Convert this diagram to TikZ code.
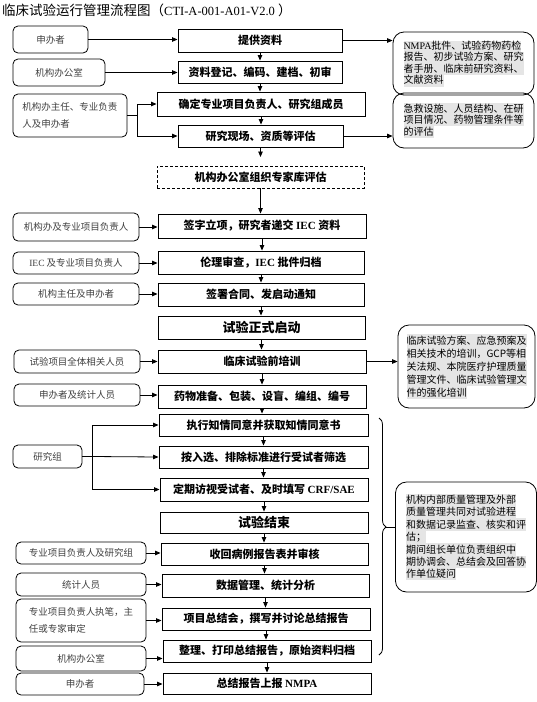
\documentclass[tikz,border=0pt]{standalone}
\usepackage{fontspec}
\setmainfont{Liberation Serif}
\newfontfamily\cjk{Noto Sans CJK SC}
\usetikzlibrary{arrows.meta, positioning, decorations.pathreplacing}
\definecolor{notegray}{gray}{0.9}
\definecolor{sidetext}{gray}{0.25}
\newcommand\lat[1]{{\rmfamily #1}}
\newcommand\hl[1]{{\fboxsep=0pt\colorbox{notegray}{\rule[-2.6pt]{0pt}{\baselineskip}#1}}}

\begin{document}
\begin{tikzpicture}[x=1pt, y=-1pt, >={Triangle[length=5.5pt,width=4.5pt]},
    boxsize/.style 2 args={minimum width=#1, minimum height=#2},
    mainbox/.style={draw, line width=0.9pt, inner sep=1pt, font=\cjk\bfseries\fontsize{11}{13}\selectfont},
    bigbox/.style={mainbox, font=\cjk\bfseries\fontsize{13}{15}\selectfont},
    dashbox/.style={mainbox, dash pattern=on 3pt off 2pt},
    sidebox/.style={draw, line width=0.8pt, rounded corners=5pt, inner sep=1pt, text=sidetext, font=\cjk\fontsize{9.5}{13}\selectfont},
    sidetwo/.style={sidebox, align=left, font=\cjk\fontsize{9.5}{16.5}\selectfont},
    notebox/.style={draw, line width=0.8pt, rounded corners=11pt, inner sep=1pt, align=left, font=\cjk\fontsize{10}{11.5}\selectfont},
    flow/.style={->, line width=0.8pt}]
    \useasboundingbox (0,0) rectangle (537,702);

    % Title
    \node[anchor=west, inner sep=0pt, font=\cjk\fontsize{13.5}{15}\selectfont] (title) at (2,10)
        {临床试验运行管理流程图（\lat{\fontsize{12.5}{14}\selectfont CTI-A-001-A01-V2.0 }）};

    % Main flow
    \node[mainbox, boxsize={164}{23}] (m1) at (260,40.5) {提供资料};
    \node[mainbox, boxsize={164}{22}] (m2) at (260,72) {资料登记、编码、建档、初审};
    \node[mainbox, boxsize={208}{24}] (m3) at (261,104) {确定专业项目负责人、研究组成员};
    \node[mainbox, boxsize={165}{22}] (m4) at (260.5,136) {研究现场、资质等评估};
    \node[dashbox, boxsize={207}{22}] (m5) at (260.5,177) {机构办公室组织专家库评估};
    \node[mainbox, boxsize={208}{24}] (m6) at (262,226) {签字立项，研究者递交 \lat{IEC} 资料};
    \node[mainbox, boxsize={206}{23}] (m7) at (261,262.5) {伦理审查，\lat{IEC} 批件归档};
    \node[mainbox, boxsize={206}{23}] (m8) at (261,294.5) {签署合同、发启动通知};
    \node[bigbox, boxsize={207}{23}] (m9) at (261.5,327.5) {试验正式启动};
    \node[mainbox, boxsize={208}{23}] (m10) at (262,361.5) {临床试验前培训};
    \node[mainbox, boxsize={208}{23}] (m11) at (262,396.5) {药物准备、包装、设盲、编组、编号};
    \node[mainbox, boxsize={209}{22}] (m12) at (263.5,425) {执行知情同意并获取知情同意书};
    \node[mainbox, boxsize={209}{22}] (m13) at (263.5,457) {按入选、排除标准进行受试者筛选};
    \node[mainbox, boxsize={208}{23}] (m14) at (264,489.5) {定期访视受试者、及时填写 \lat{CRF/SAE}};
    \node[bigbox, boxsize={208}{21}] (m15) at (264,522.5) {试验结束};
    \node[mainbox, boxsize={207}{22}] (m16) at (264.5,554) {收回病例报告表并审核};
    \node[mainbox, boxsize={207}{23}] (m17) at (265.5,585.5) {数据管理、统计分析};
    \node[mainbox, boxsize={208}{22}] (m18) at (266,619) {项目总结会，撰写并讨论总结报告};
    \node[mainbox, boxsize={208}{22}] (m19) at (267,651) {整理、打印总结报告，原始资料归档};
    \node[mainbox, boxsize={208}{21}] (m20) at (267,683.5) {总结报告上报 \lat{NMPA}};

    % Who is responsible
    \node[sidebox, boxsize={75}{27}] (s1) at (50.5,39.5) {申办者};
    \node[sidebox, boxsize={92}{27}] (s2) at (59,72.5) {机构办公室};
    \node[sidetwo, boxsize={114}{43}] (s3) at (70,115.5) {机构办主任、专业负责\\人及申办者};
    \node[sidebox, boxsize={126}{28}] (s4) at (76,227) {机构办及专业项目负责人};
    \node[sidebox, boxsize={126}{22}] (s5) at (76,263) {\lat{IEC} 及专业项目负责人};
    \node[sidebox, boxsize={126}{22}] (s6) at (76,294) {机构主任及申办者};
    \node[sidebox, boxsize={126}{23}] (s7) at (77,361.5) {试验项目全体相关人员};
    \node[sidebox, boxsize={126}{22}] (s8) at (77,395) {申办者及统计人员};
    \node[sidebox, boxsize={69}{23}] (s9) at (47.5,456.5) {研究组};
    \node[sidebox, boxsize={130}{22}] (s10) at (81,553) {专业项目负责人及研究组};
    \node[sidebox, boxsize={130}{23}] (s11) at (81,584.5) {统计人员};
    \node[sidetwo, boxsize={130}{43}] (s12) at (81,620.5) {专业项目负责人执笔，主\\任或专家审定};
    \node[sidebox, boxsize={130}{25}] (s13) at (81,658.5) {机构办公室};
    \node[sidebox, boxsize={128}{22}] (s14) at (80,684) {申办者};

    % Notes on the right
    \node[notebox, boxsize={141}{63}] (n1) at (463.5,63.5)
        {\hl{\lat{NMPA}批件、试验药物药检}\\\hl{报告、初步试验方案、研究}\\\hl{者手册、临床前研究资料、}\\\hl{文献资料}};
    \node[notebox, boxsize={141}{55}] (n2) at (463.5,120.5)
        {\hl{急救设施、人员结构、在研}\\\hl{项目情况、药物管理条件等}\\\hl{的评估}};
    \node[notebox, boxsize={137}{83}, font=\cjk\fontsize{10}{13}\selectfont] (n3) at (466.5,366.5)
        {\hl{临床试验方案、应急预案及}\\\hl{相关技术的培训，GCP等相}\\\hl{关法规、本院医疗护理质量}\\\hl{管理文件、临床试验管理文}\\\hl{件的强化培训}};
    \node[notebox, boxsize={141}{110}, font=\cjk\fontsize{10}{12.4}\selectfont] (n4) at (466,537)
        {\hl{机构内部质量管理及外部}\\\hl{质量管理共同对试验进程}\\\hl{和数据记录监查、核实和评}\\\hl{估；}\\\hl{期间组长单位负责组织中}\\\hl{期协调会、总结会及回答协}\\\hl{作单位疑问}};

    % Arrows down the flow
    \foreach \a/\b in {m1/m2, m2/m3, m3/m4, m5/m6, m6/m7, m7/m8, m8/m9, m9/m10, m10/m11,
        m11/m12, m12/m13, m13/m14, m14/m15, m15/m16, m16/m17, m17/m18, m18/m19, m19/m20}
        \draw[flow] (\a.south) -- (\a.south |- \b.north);
    \coordinate (m4end) at (260.5,157);
    \draw[flow] (m4.south) -- (m4end);

    % Arrows from the left
    \foreach \s/\m in {s1/m1, s2/m2, s4/m6, s5/m7, s6/m8, s7/m10, s8/m11,
        s10/m16, s11/m17, s12/m18, s13/m19, s14/m20}
        \draw[flow] (\s.east) -- (\s.east -| \m.west);
    \coordinate (j3) at (137,115.5);
    \draw[line width=0.8pt] (s3.east) -- (j3);
    \draw[flow] (j3) |- (m3.west);
    \draw[flow] (j3) |- (m4.west);
    \coordinate (j9) at (92,456.5);
    \draw[line width=0.8pt] (s9.east) -- (j9);
    \draw[flow] (j9) |- (m12.west);
    \draw[flow] (j9) -- (m13.west);
    \draw[flow] (j9) |- (m14.west);

    % Arrows to the notes
    \draw[flow] (m1.east) -- (m1.east -| n1.west);
    \draw[flow] (m4.east) -- (m4.east -| n2.west);
    \draw[flow] (m10.east) -- (m10.east -| n3.west);

    % Brace over the running trial
    \draw[line width=0.8pt, decorate, decoration={brace, amplitude=7pt, aspect=0.46}] (379,418) -- (379,655);
    \coordinate (btip) at (386,527);
    \draw[line width=0.8pt] (btip) -- (btip -| n4.west);

\end{tikzpicture}
\end{document}
